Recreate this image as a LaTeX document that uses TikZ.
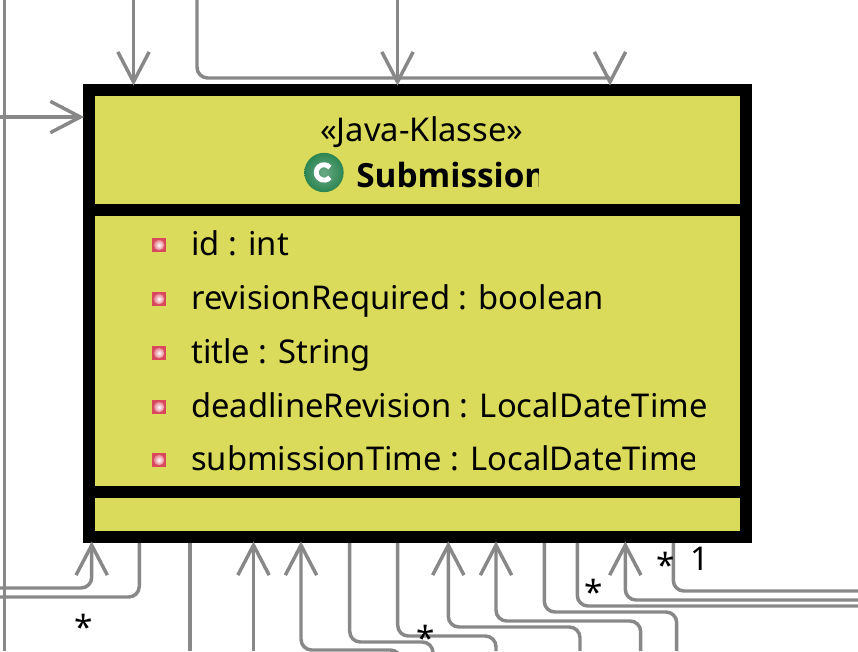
\documentclass[tikz,border=0pt]{standalone}
\usepackage{fontspec}
\setmainfont{Noto Sans}
\newfontfamily\namefont{Open Sans}
\usetikzlibrary{arrows.meta}
\definecolor{classfill}{HTML}{DBDB5B}
\definecolor{linkgray}{HTML}{888888}
\definecolor{icongreen}{HTML}{2C8552}
\definecolor{iconred}{HTML}{D9485C}
\tikzset{
  x=0.75pt,y=-0.75pt,
  link/.style={draw=linkgray,line width=2.6pt,rounded corners=8pt},
  tipped/.style={link,{Straight Barb[length=22.5pt,width=23.5pt]}-,shorten <=-1.2pt},
  tippedend/.style={link,-{Straight Barb[length=22.5pt,width=23.5pt]},shorten >=-1.2pt},
  classbox/.style={draw=black,fill=classfill,line width=9pt,minimum width=492.75pt,minimum height=335.25pt,inner sep=0pt},
  divider/.style={draw=black,line width=9pt},
  attr/.style={anchor=base west,inner sep=0pt,font=\fontsize{24.55pt}{28pt}\selectfont,text=black},
  mult/.style={anchor=center,inner sep=0pt,font=\fontsize{25pt}{28pt}\selectfont,text=black},
  bullet/.style={minimum size=11.2pt,inner sep=0pt,rectangle,fill=iconred,
    path picture={\shade[inner color=white,outer color=iconred] (path picture bounding box.center) circle[radius=4pt];}},
}
\begin{document}
\begin{tikzpicture}
\useasboundingbox (0,0) rectangle (858,651);
\node[classbox] (box) at (417,313.5) {};
\draw[divider] (95,210) -- (740,210);
\draw[divider] (95,492) -- (740,492);

% compartment text
\node[attr] (stereo) at (320,141.5) {«Java-Klasse»};
\begin{scope}
\clip (340,150) rectangle (538.7,200);
\node[attr,font=\namefont\fontsize{25pt}{28pt}\selectfont\bfseries] (name) at (356,187) {Submission};
\end{scope}
\node[circle,minimum size=29.5pt,inner sep=0pt,inner color=icongreen!70!white,outer color=icongreen] (cicon) at (324,172.5) {};
\draw[white,line width=3.7pt] ([shift={(5.9,-5)}]cicon.center) arc[start angle=40,end angle=320,radius=5.8pt];

\node[bullet] (b1) at (159,245) {};
\node[bullet] (b2) at (159,299) {};
\node[bullet] (b3) at (159,353) {};
\node[bullet] (b4) at (159,407) {};
\node[bullet] (b5) at (159,460) {};
\node[attr] (a1) at (191,255.7) {id : int};
\node[attr] (a2) at (191,309.7) {revisionRequired : boolean};
\node[attr] (a3) at (191,363.7) {title : String};
\begin{scope}
\clip (185,385) rectangle (707,430);
\node[attr] (a4) at (191,417.7) {deadlineRevision : LocalDateTime};
\end{scope}
\begin{scope}
\clip (185,438) rectangle (694,484);
\node[attr] (a5) at (191,470.7) {submissionTime : LocalDateTime};
\end{scope}

% free ends
\coordinate (t1) at (133.5,0);
\coordinate (t2) at (197,0);
\coordinate (t2e) at (610,78);
\coordinate (t3) at (397.5,0);
\coordinate (l1) at (0,117);
\coordinate (v1t) at (4.7,0);
\coordinate (v1b) at (4.7,651);

% top and left connectors
\draw[tippedend] (t1) -- (box.north -| t1);
\draw[tippedend] (t3) -- (box.north -| t3);
\draw[link] (t2) |- (t2e);
\draw[tippedend] (t2e) -- (box.north -| t2e);
\draw[tippedend] (l1) -- (box.west |- l1);
\draw[link] (v1t) -- (v1b);

% bottom connectors
\coordinate (p1) at (91.7,588);   \coordinate (e1) at (0,588);
\coordinate (p2) at (139.3,597);  \coordinate (e2) at (0,597);
\coordinate (p3) at (190,651);
\coordinate (p4) at (253.5,651);
\coordinate (p5) at (301,650);    \coordinate (e5) at (401,650);   \coordinate (f5) at (401,662);
\coordinate (p6) at (349.7,642);  \coordinate (e6) at (433,642);   \coordinate (f6) at (433,651);
\coordinate (p7) at (397.7,636);  \coordinate (e7) at (496,636);   \coordinate (f7) at (496,651);
\coordinate (p8) at (448.3,627);  \coordinate (e8) at (580,627);   \coordinate (f8) at (580,651);
\coordinate (p9) at (496,621);    \coordinate (e9) at (640.7,621); \coordinate (f9) at (640.7,651);
\coordinate (p10) at (544.3,612); \coordinate (e10) at (676.7,612);\coordinate (f10) at (676.7,651);
\coordinate (p11) at (577.3,606); \coordinate (e11) at (858,606);
\coordinate (p12) at (625.3,600); \coordinate (e12) at (858,600);
\coordinate (p13) at (673.3,591); \coordinate (e13) at (858,591);

\draw[tipped] (box.south -| p1) -- (p1) -- (e1);
\draw[link] (box.south -| p2) -- (p2) -- (e2);
\draw[link] (box.south -| p3) -- (p3);
\draw[tipped] (box.south -| p4) -- (p4);
\begin{scope}
\clip (0,0) rectangle (858,651);
\draw[tipped] (box.south -| p5) -- (p5) -- (e5) -- (f5);
\end{scope}
\draw[link] (box.south -| p6) -- (p6) -- (e6) -- (f6);
\draw[link] (box.south -| p7) -- (p7) -- (e7) -- (f7);
\draw[tipped] (box.south -| p8) -- (p8) -- (e8) -- (f8);
\draw[tipped] (box.south -| p9) -- (p9) -- (e9) -- (f9);
\draw[link] (box.south -| p10) -- (p10) -- (e10) -- (f10);
\draw[link] (box.south -| p11) -- (p11) -- (e11);
\draw[tipped] (box.south -| p12) -- (p12) -- (e12);
\draw[link] (box.south -| p13) -- (p13) -- (e13);

% multiplicities
\node[mult] (m1) at (84,627) {*};
\node[mult] (m2) at (594,592) {*};
\node[mult] (m3) at (666,565) {*};
\node[mult,anchor=south] (m4) at (426,650.5) {*};
\node[attr] (m5) at (690,570.5) {1};
\end{tikzpicture}
\end{document}
